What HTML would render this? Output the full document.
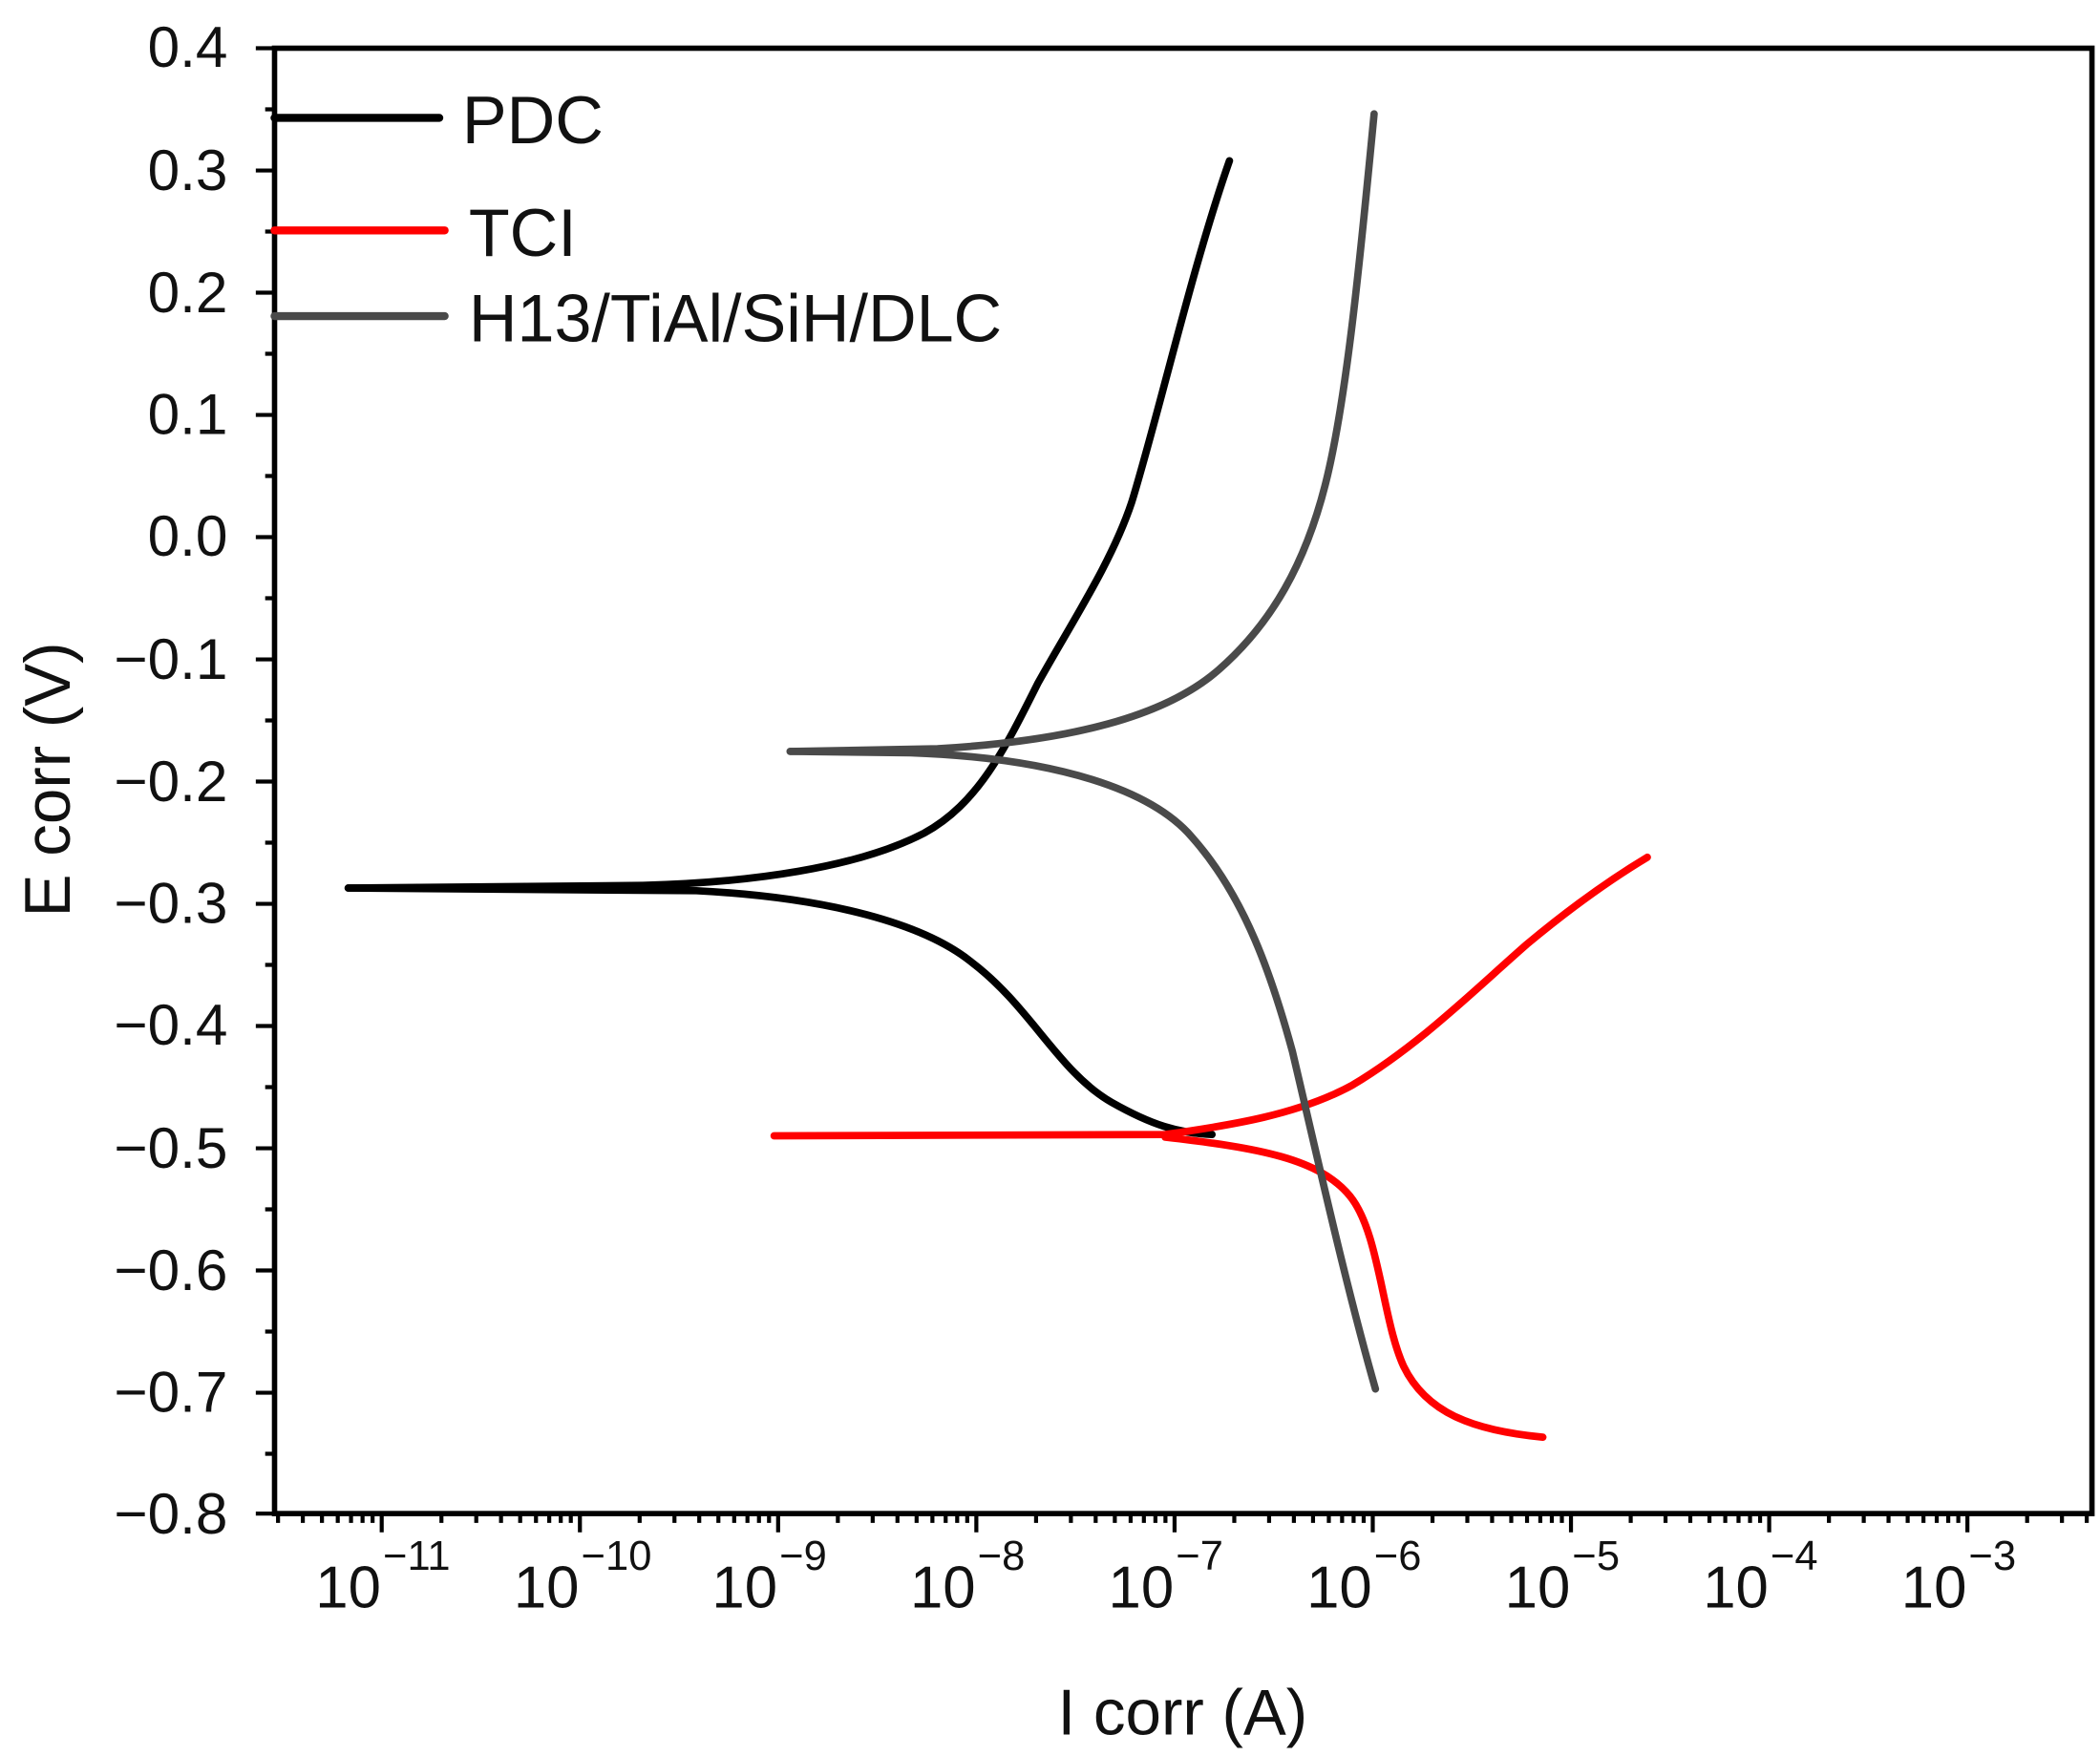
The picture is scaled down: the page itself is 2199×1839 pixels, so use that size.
<!DOCTYPE html>
<html><head><meta charset="utf-8"><style>html,body{margin:0;padding:0;background:#fff}svg{display:block}</style></head>
<body>
<svg width="2199" height="1839" viewBox="0 0 1568 1311" preserveAspectRatio="none" xmlns="http://www.w3.org/2000/svg" font-family="Liberation Sans, Arial, sans-serif">
<rect width="1568" height="1311" fill="#fff"/>
<g stroke="#000" stroke-width="3" fill="none">
<path d="M191,36h14 M198,81.6h7 M191,127.3h14 M198,172.9h7 M191,218.5h14 M198,264.1h7 M191,309.8h14 M198,355.4h7 M191,401h14 M198,446.6h7 M191,492.3h14 M198,537.9h7 M191,583.5h14 M198,629.1h7 M191,674.8h14 M198,720.4h7 M191,766h14 M198,811.6h7 M191,857.3h14 M198,902.9h7 M191,948.5h14 M198,994.1h7 M191,1039.8h14 M198,1085.4h7 M191,1130h14"/>
<path d="M207.6,1130v7m18.5,-7v7m14.3,-7v7m11.8,-7v7m9.9,-7v7m8.6,-7v7m7.5,-7v7"/>
<path d="M285,1130v14m44.6,-14v7m26,-7v7m18.5,-7v7m14.3,-7v7m11.8,-7v7m9.9,-7v7m8.6,-7v7m7.5,-7v7"/>
<path d="M433,1130v14m44.6,-14v7m26,-7v7m18.5,-7v7m14.3,-7v7m11.8,-7v7m9.9,-7v7m8.6,-7v7m7.5,-7v7"/>
<path d="M581,1130v14m44.6,-14v7m26,-7v7m18.5,-7v7m14.3,-7v7m11.8,-7v7m9.9,-7v7m8.6,-7v7m7.5,-7v7"/>
<path d="M729,1130v14m44.6,-14v7m26,-7v7m18.5,-7v7m14.3,-7v7m11.8,-7v7m9.9,-7v7m8.6,-7v7m7.5,-7v7"/>
<path d="M877,1130v14m44.6,-14v7m26,-7v7m18.5,-7v7m14.3,-7v7m11.8,-7v7m9.9,-7v7m8.6,-7v7m7.5,-7v7"/>
<path d="M1025,1130v14m44.6,-14v7m26,-7v7m18.5,-7v7m14.3,-7v7m11.8,-7v7m9.9,-7v7m8.6,-7v7m7.5,-7v7"/>
<path d="M1173,1130v14m44.6,-14v7m26,-7v7m18.5,-7v7m14.3,-7v7m11.8,-7v7m9.9,-7v7m8.6,-7v7m7.5,-7v7"/>
<path d="M1321,1130v14m44.6,-14v7m26,-7v7m18.5,-7v7m14.3,-7v7m11.8,-7v7m9.9,-7v7m8.6,-7v7m7.5,-7v7"/>
<path d="M1469,1130v14m44.6,-14v7m26,-7v7m18.5,-7v7"/>
</g>
<rect x="205" y="36" width="1357" height="1094" fill="none" stroke="#000" stroke-width="4"/>
<g font-size="43" fill="#111" text-anchor="end">
<text x="170" y="50">0.4</text><text x="170" y="142">0.3</text><text x="170" y="233">0.2</text>
<text x="170" y="324">0.1</text><text x="170" y="415">0.0</text><text x="170" y="507">−0.1</text>
<text x="170" y="598">−0.2</text><text x="170" y="689">−0.3</text><text x="170" y="780">−0.4</text>
<text x="170" y="872">−0.5</text><text x="170" y="963">−0.6</text><text x="170" y="1054">−0.7</text>
<text x="170" y="1145">−0.8</text>
</g>
<g font-size="44" fill="#111" text-anchor="middle">
<text x="260" y="1200">10</text><text x="408" y="1200">10</text><text x="556" y="1200">10</text>
<text x="704" y="1200">10</text><text x="852" y="1200">10</text><text x="1000" y="1200">10</text>
<text x="1148" y="1200">10</text><text x="1296" y="1200">10</text><text x="1444" y="1200">10</text>
</g>
<g font-size="31" fill="#111">
<text x="286" y="1172">−11</text><text x="434" y="1172">−10</text><text x="582" y="1172">−9</text>
<text x="730" y="1172">−8</text><text x="878" y="1172">−7</text><text x="1026" y="1172">−6</text>
<text x="1174" y="1172">−5</text><text x="1322" y="1172">−4</text><text x="1470" y="1172">−3</text>
</g>
<text x="883" y="1295" font-size="48" text-anchor="middle" fill="#111">I corr (A)</text>
<text transform="translate(52,582) rotate(-90)" font-size="48" text-anchor="middle" fill="#111">E corr (V)</text>
<g stroke-width="6" fill="none" stroke-linecap="round">
<line x1="205" y1="88" x2="328" y2="88" stroke="#000"/>
<line x1="205" y1="172" x2="332" y2="172" stroke="#f00"/>
<line x1="205" y1="236" x2="332" y2="236" stroke="#4a4a4a"/>
</g>
<g font-size="50" fill="#111">
<text x="345" y="107">PDC</text><text x="350" y="191">TCI</text><text x="350" y="255">H13/TiAl/SiH/DLC</text>
</g>
<g fill="none" stroke-width="5.5" stroke-linejoin="round" stroke-linecap="round">
<path stroke="#000" d="M260,663 L480,661 C560,659 640,648 690,622 C730,600 750,560 775,510 C800,465 830,420 845,375 C865,310 890,200 918,120"/>
<path stroke="#000" d="M260,663 L520,665 C620,670 690,690 725,718 C770,752 790,800 830,823 C860,840 880,846 905,847"/>
<path stroke="#f00" d="M578,848 L870,847 C920,840 970,832 1010,810 C1060,780 1100,740 1140,705 C1170,680 1200,658 1230,640"/>
<path stroke="#f00" d="M870,849 C940,857 985,865 1008,893 C1030,920 1032,985 1048,1020 C1065,1055 1100,1068 1152,1073"/>
<path stroke="#4a4a4a" d="M590,561 L700,559 C800,553 870,535 910,500 C950,465 975,420 990,360 C1005,300 1015,200 1026,85"/>
<path stroke="#4a4a4a" d="M590,561 L680,562 C790,566 860,590 890,625 C930,670 950,730 965,785 C985,870 1005,960 1027,1037"/>
</g>
</svg>
</body></html>
